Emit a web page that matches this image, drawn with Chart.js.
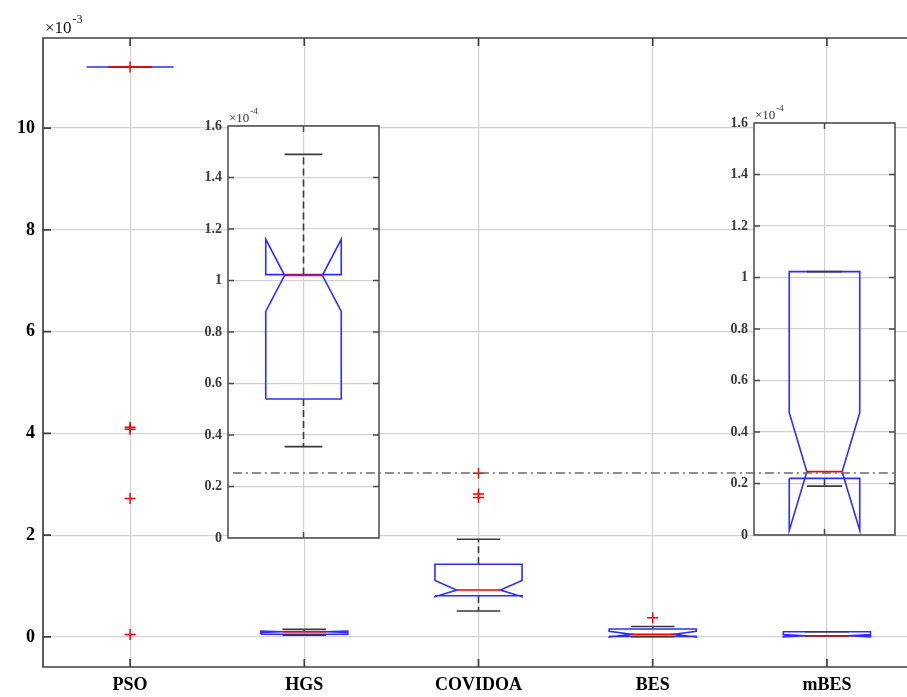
<!DOCTYPE html>
<html>
<head>
<meta charset="utf-8">
<script src="https://cdn.jsdelivr.net/npm/chart.js@4.4.1/dist/chart.umd.min.js"></script>
<style>
  body { margin: 0; background: #fff; overflow: hidden; }
  #wrap { position: relative; width: 907px; height: 697px; overflow: hidden; }
  canvas { position: absolute; }
</style>
</head>
<body>
<div id="wrap">
  <canvas id="main" width="940" height="697" style="left:0;top:0"></canvas>
  <canvas id="insetHGS" width="210" height="460" style="left:180px;top:96px"></canvas>
  <canvas id="insetMBES" width="200" height="460" style="left:706px;top:93px"></canvas>
  <canvas id="overlay" width="940" height="697" style="left:0;top:0"></canvas>
</div>
<script>
const methods = ['PSO', 'HGS', 'COVIDOA', 'BES', 'mBES'];

// box statistics (raw values)
const q1      = [11.2e-3, 0.540e-4, 0.810e-3, 0.012e-3, 0.220e-4];
const notchLo = [11.2e-3, 0.880e-4, 0.790e-3, 0.000e-3, 0.018e-4];
const median  = [11.2e-3, 1.020e-4, 0.923e-3, 0.055e-3, 0.246e-4];
const notchHi = [11.2e-3, 1.160e-4, 1.108e-3, 0.110e-3, 0.475e-4];
const q3      = [11.2e-3, 1.023e-4, 1.430e-3, 0.157e-3, 1.023e-4];
const whiskLo = [11.2e-3, 0.355e-4, 0.510e-3, 0.004e-3, 0.190e-4];
const whiskHi = [11.2e-3, 1.490e-4, 1.920e-3, 0.205e-3, 1.023e-4];
const outliers = [
  [11.2e-3, 4.12e-3, 4.08e-3, 2.72e-3, 0.05e-3],
  [],
  [3.215e-3, 2.81e-3, 2.74e-3],
  [0.38e-3],
  []
];

const mainTicks = [0, 2, 4, 6, 8, 10];                        // x 10^-3
const mainRange = [-0.59, 11.77];
const insetTicks = [0, 0.2, 0.4, 0.6, 0.8, 1, 1.2, 1.4, 1.6];  // x 10^-4
const insetLabels = ['0', '0.2', '0.4', '0.6', '0.8', '1', '1.2', '1.4', '1.6'];
const insetRange = [0, 1.6];

// dash-dot reference level drawn across both zoom panels
const refLevel = 3.22e-3;
const refFrom = 1.59;
const refTo = 5.40;

const BLUE = 'rgb(45,45,255)';
const RED = '#ff0000';
const BLACK = '#3a3a3a';
const GRID = '#d2d2d2';
const AXIS = '#404040';

Chart.defaults.font.family = '"Liberation Serif", "Times New Roman", serif';

function pt(x, y) { return { x: x, y: y }; }

// notched box + whiskers for method i, centred on xc, values multiplied by k
function boxSets(i, xc, k) {
  const L = xc - 0.25, R = xc + 0.25, nl = xc - 0.125, nr = xc + 0.125;
  const v = a => a[i] * k;
  const gap = pt(xc, null);
  const line = { showLine: true, pointRadius: 0, borderWidth: 1.6, spanGaps: false, fill: false, tension: 0 };
  return [
    Object.assign({}, line, {
      data: [pt(xc, v(q3)), pt(xc, v(whiskHi)), gap, pt(xc, v(q1)), pt(xc, v(whiskLo))],
      borderColor: BLACK, borderDash: [7, 4], order: 4
    }),
    Object.assign({}, line, {
      data: [pt(L, v(q1)), pt(L, v(notchLo)), pt(nl, v(median)), pt(L, v(notchHi)), pt(L, v(q3)),
             pt(R, v(q3)), pt(R, v(notchHi)), pt(nr, v(median)), pt(R, v(notchLo)), pt(R, v(q1)), pt(L, v(q1))],
      borderColor: BLUE, order: 3
    }),
    Object.assign({}, line, {
      data: [pt(nl, v(whiskHi)), pt(nr, v(whiskHi)), gap, pt(nl, v(whiskLo)), pt(nr, v(whiskLo))],
      borderColor: BLACK, order: 2
    }),
    Object.assign({}, line, {
      data: [pt(nl, v(median)), pt(nr, v(median))],
      borderColor: RED, order: 1
    }),
    {
      data: outliers[i].map(o => pt(xc, o * k)),
      showLine: false, pointStyle: 'cross', pointRadius: 5.5,
      pointBorderColor: RED, pointBorderWidth: 1.5, order: 0
    }
  ];
}

// axes box with inward ticks, MATLAB style
const frame = {
  id: 'frame',
  afterDatasetsDraw(chart, args, o) {
    if (!o.show) return;
    const ctx = chart.ctx, a = chart.chartArea;
    const xs = chart.scales.x, ys = chart.scales.y;
    ctx.save();
    ctx.strokeStyle = o.color;
    ctx.lineWidth = o.width;
    ctx.beginPath();
    ctx.rect(a.left, a.top, a.right - a.left, a.bottom - a.top);
    ys.ticks.forEach(t => {
      const p = ys.getPixelForValue(t.value);
      ctx.moveTo(a.left, p); ctx.lineTo(a.left + o.len, p);
      if (o.rightTicks) { ctx.moveTo(a.right, p); ctx.lineTo(a.right - o.len, p); }
    });
    xs.ticks.forEach(t => {
      const p = xs.getPixelForValue(t.value);
      ctx.moveTo(p, a.bottom); ctx.lineTo(p, a.bottom - o.len);
      ctx.moveTo(p, a.top); ctx.lineTo(p, a.top + o.len);
    });
    ctx.stroke();
    ctx.restore();
  }
};

// white face for the zoom panels
const face = {
  id: 'face',
  beforeDraw(chart, args, o) {
    if (!o.show) return;
    const a = chart.chartArea, ctx = chart.ctx;
    ctx.save();
    ctx.fillStyle = '#fff';
    ctx.fillRect(a.left, a.top, a.right - a.left, a.bottom - a.top);
    ctx.restore();
  }
};

// "×10^n" multiplier above the y axis
const expLabel = {
  id: 'expLabel',
  afterDraw(chart, args, o) {
    if (!o.text) return;
    const ctx = chart.ctx, a = chart.chartArea;
    const x = a.left + o.dx, y = a.top + o.dy;
    ctx.save();
    ctx.fillStyle = o.color;
    ctx.textBaseline = 'alphabetic';
    ctx.font = o.size + 'px "Liberation Serif"';
    ctx.fillText('×10', x, y);
    const w = ctx.measureText('×10').width;
    ctx.font = Math.round(o.size * 0.68) + 'px "Liberation Serif"';
    ctx.fillText(o.text, x + w + 1, y - o.size * 0.6);
    ctx.restore();
  }
};

Chart.register(frame, face, expLabel);

const base = {
  responsive: false,
  animation: false,
  events: [],
  plugins: { legend: { display: false }, tooltip: { enabled: false } }
};

// main axes
let mainSets = [];
methods.forEach((m, i) => { mainSets = mainSets.concat(boxSets(i, i + 1, 1e3)); });

new Chart(document.getElementById('main'), {
  type: 'scatter',
  data: { datasets: mainSets },
  options: Object.assign({}, base, {
    layout: { padding: { top: 38, right: 26, left: 0, bottom: 0 } },
    plugins: Object.assign({}, base.plugins, {
      frame: { show: true, color: AXIS, width: 1.7, len: 8, rightTicks: false },
      expLabel: { text: '-3', size: 17, dx: 2, dy: -5, color: '#111' }
    }),
    scales: {
      x: {
        type: 'linear', min: 0.5, max: 5.5,
        afterBuildTicks: s => { s.ticks = methods.map((m, i) => ({ value: i + 1 })); },
        afterFit: s => { s.height = 30; },
        grid: { color: GRID, lineWidth: 1.2, drawTicks: false },
        border: { display: false },
        ticks: {
          callback: v => methods[v - 1], autoSkip: false, maxRotation: 0, padding: 8,
          color: '#000', font: { size: 18, weight: 'bold' }
        }
      },
      y: {
        min: mainRange[0], max: mainRange[1],
        afterBuildTicks: s => { s.ticks = mainTicks.map(v => ({ value: v })); },
        afterFit: s => { s.width = 43; },
        grid: { color: GRID, lineWidth: 1.2, drawTicks: false },
        border: { display: false },
        ticks: { padding: 8, color: '#000', font: { size: 18, weight: 'bold' } }
      }
    }
  })
});

// zoom panels
function makeInset(id, i, padRight) {
  new Chart(document.getElementById(id), {
    type: 'scatter',
    data: { datasets: boxSets(i, 1, 1e4) },
    options: Object.assign({}, base, {
      layout: { padding: { top: 30, right: padRight, left: 0, bottom: 18 } },
      plugins: Object.assign({}, base.plugins, {
        face: { show: true },
        frame: { show: true, color: '#4a4a4a', width: 1.5, len: 6, rightTicks: true },
        expLabel: { text: '-4', size: 13, dx: 1, dy: -4, color: '#333' }
      }),
      scales: {
        x: {
          type: 'linear', min: 0.5, max: 1.5,
          afterBuildTicks: s => { s.ticks = [{ value: 1 }]; },
          afterFit: s => { s.height = 0; },
          grid: { color: GRID, lineWidth: 1.2, drawTicks: false },
          border: { display: false },
          ticks: { display: false }
        },
        y: {
          min: insetRange[0], max: insetRange[1],
          afterBuildTicks: s => { s.ticks = insetTicks.map(v => ({ value: v })); },
          afterFit: s => { s.width = 48; },
          grid: { color: GRID, lineWidth: 1.2, drawTicks: false },
          border: { display: false },
          ticks: {
            callback: (v, idx) => insetLabels[idx],
            padding: 6, color: '#3a3a3a', font: { size: 14, weight: 'bold' }
          }
        }
      }
    })
  });
}
makeInset('insetHGS', 1, 11);
makeInset('insetMBES', 4, 11);

// dash-dot level on top of everything, same layout as the main axes
new Chart(document.getElementById('overlay'), {
  type: 'scatter',
  data: {
    datasets: [{
      data: [pt(refFrom, refLevel * 1e3), pt(refTo, refLevel * 1e3)],
      showLine: true, pointRadius: 0, borderWidth: 1.5,
      borderColor: '#6a6a6a', borderDash: [9, 4, 2, 4]
    }]
  },
  options: Object.assign({}, base, {
    layout: { padding: { top: 38, right: 26, left: 0, bottom: 0 } },
    scales: {
      x: {
        type: 'linear', min: 0.5, max: 5.5,
        afterFit: s => { s.height = 30; },
        grid: { display: false }, border: { display: false }, ticks: { display: false }
      },
      y: {
        min: mainRange[0], max: mainRange[1],
        afterFit: s => { s.width = 43; },
        grid: { display: false }, border: { display: false }, ticks: { display: false }
      }
    }
  })
});
</script>
</body>
</html>
